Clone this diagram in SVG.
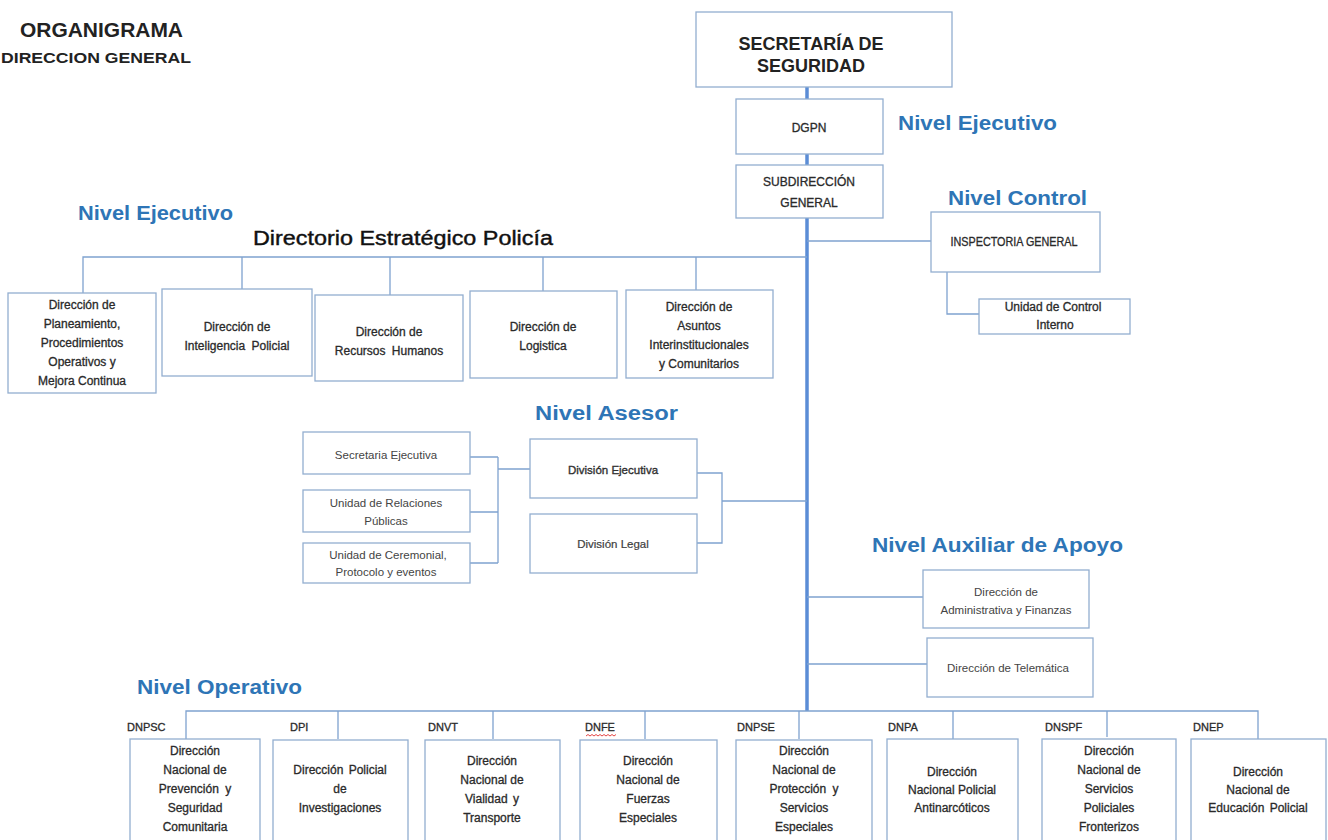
<svg xmlns="http://www.w3.org/2000/svg" width="1328" height="840" viewBox="0 0 1328 840">
<style>
.bg{fill:#ffffff}
.box{fill:#ffffff;stroke:#93aed0;stroke-width:1.3}
.ln{fill:none;stroke:#7fa2cf;stroke-width:1.3}
.main{fill:none;stroke:#5b8dd6;stroke-width:3.5}
.t{font-family:"Liberation Sans",Arial,sans-serif;font-size:12px;fill:#2a2a2a;stroke:#2a2a2a;stroke-width:0.3;text-anchor:middle}
.c{font-family:"Liberation Sans",Arial,sans-serif;font-size:11.5px;fill:#444;text-anchor:middle}
.lv{font-family:"Liberation Sans",Arial,sans-serif;font-size:20px;font-weight:bold;fill:#2e75b6}
.ab{font-family:"Liberation Sans",Arial,sans-serif;font-size:11px;fill:#2a2a2a;stroke:#2a2a2a;stroke-width:0.3}
.ti{font-family:"Liberation Sans",Arial,sans-serif;font-weight:bold;fill:#222}
</style>
<rect class="bg" x="0" y="0" width="1328" height="840"/>

<g id="title">
<text class="ti" x="20" y="37" font-size="20" textLength="163" lengthAdjust="spacingAndGlyphs">ORGANIGRAMA</text>
<text class="ti" x="1" y="63" font-size="14.5" textLength="190" lengthAdjust="spacingAndGlyphs">DIRECCION GENERAL</text>
</g>

<g id="levels">
<text class="lv" x="898" y="130" textLength="159" lengthAdjust="spacingAndGlyphs">Nivel Ejecutivo</text>
<text class="lv" x="948" y="205" textLength="139" lengthAdjust="spacingAndGlyphs">Nivel Control</text>
<text class="lv" x="78" y="220" textLength="155" lengthAdjust="spacingAndGlyphs">Nivel Ejecutivo</text>
<text class="lv" x="535" y="420" textLength="143" lengthAdjust="spacingAndGlyphs">Nivel Asesor</text>
<text class="lv" x="872" y="552" textLength="251" lengthAdjust="spacingAndGlyphs">Nivel Auxiliar de Apoyo</text>
<text class="lv" x="137" y="694" textLength="165" lengthAdjust="spacingAndGlyphs">Nivel Operativo</text>
</g>

<g id="connectors">
<path class="main" d="M807 87 V711"/>
<path class="ln" d="M83 295 V257 H807 M242 289 V257 M390 295 V257 M543 291 V257 M696 290 V257"/>
<path class="ln" d="M807 241 H931"/>
<path class="ln" d="M947 272 V314 H979"/>
<path class="ln" d="M470 457 H498 M470 512 H498 M470 563 H498 M498 457 V563 M498 469 H530"/>
<path class="ln" d="M697 473 H722 V543 H697 M722 501 H807"/>
<path class="ln" d="M807 597 H923 M807 664 H927"/>
<path class="ln" d="M186 739 V711 H1258 V739 M338 711 V739 M493 711 V739 M645 711 V739 M799 711 V739 M953 711 V739 M1107 711 V737"/>
</g>

<g id="secretaria">
<rect class="box" x="696" y="12" width="256" height="75"/>
<text class="ti" x="811" y="50" font-size="18" text-anchor="middle" fill="#222">SECRETARÍA DE</text>
<text class="ti" x="811" y="72" font-size="18" text-anchor="middle" fill="#222">SEGURIDAD</text>
</g>

<g id="dgpn">
<rect class="box" x="736" y="99" width="147" height="55"/>
<text class="t" x="809" y="132" font-size="12.5">DGPN</text>
</g>

<g id="subdireccion">
<rect class="box" x="736" y="165" width="147" height="53"/>
<text class="t" x="809" y="186" font-size="12.5">SUBDIRECCIÓN</text>
<text class="t" x="809" y="207" font-size="12.5">GENERAL</text>
</g>

<g id="inspectoria">
<rect class="box" x="931" y="212" width="169" height="60"/>
<text class="t" x="1014" y="246" font-size="9.5" textLength="127" lengthAdjust="spacingAndGlyphs">INSPECTORIA GENERAL</text>
</g>

<g id="control-interno">
<rect class="box" x="979" y="299" width="151" height="35"/>
<text class="t" x="1053" y="311" font-size="11.5">Unidad de Control</text>
<text class="t" x="1055" y="329" font-size="11.5">Interno</text>
</g>

<g id="directorio">
<text x="253" y="245" font-family="Liberation Sans, Arial, sans-serif" font-size="20" fill="#111" stroke="#111" stroke-width="0.4" textLength="300" lengthAdjust="spacingAndGlyphs">Directorio Estratégico Policía</text>
</g>

<g id="planeamiento">
<rect class="box" x="8" y="293" width="148" height="100"/>
<text class="t" x="82" y="309">Dirección de</text>
<text class="t" x="82" y="328">Planeamiento,</text>
<text class="t" x="82" y="347">Procedimientos</text>
<text class="t" x="82" y="366">Operativos y</text>
<text class="t" x="82" y="385">Mejora Continua</text>
</g>

<g id="inteligencia">
<rect class="box" x="162" y="289" width="150" height="87"/>
<text class="t" x="237" y="331">Dirección de</text>
<text class="t" x="237" y="350" word-spacing="3">Inteligencia Policial</text>
</g>

<g id="rrhh">
<rect class="box" x="315" y="295" width="148" height="86"/>
<text class="t" x="389" y="336">Dirección de</text>
<text class="t" x="389" y="355" word-spacing="3">Recursos Humanos</text>
</g>

<g id="logistica">
<rect class="box" x="470" y="291" width="147" height="87"/>
<text class="t" x="543" y="331">Dirección de</text>
<text class="t" x="543" y="350">Logistica</text>
</g>

<g id="asuntos">
<rect class="box" x="626" y="290" width="147" height="88"/>
<text class="t" x="699" y="311">Dirección de</text>
<text class="t" x="699" y="330">Asuntos</text>
<text class="t" x="699" y="349">Interinstitucionales</text>
<text class="t" x="699" y="368">y Comunitarios</text>
</g>

<g id="secretaria-ejecutiva">
<rect class="box" x="303" y="432" width="167" height="42"/>
<text class="c" x="386" y="459" font-size="12">Secretaria Ejecutiva</text>
</g>

<g id="relaciones-publicas">
<rect class="box" x="303" y="490" width="167" height="42"/>
<text class="c" x="386" y="507">Unidad de Relaciones</text>
<text class="c" x="386" y="525">Públicas</text>
</g>

<g id="ceremonial">
<rect class="box" x="303" y="543" width="167" height="40"/>
<text class="c" x="388" y="559">Unidad de Ceremonial,</text>
<text class="c" x="386" y="576">Protocolo y eventos</text>
</g>

<g id="division-ejecutiva">
<rect class="box" x="530" y="439" width="167" height="59"/>
<text class="c" x="613" y="474" font-size="12" fill="#222" stroke="#222" stroke-width="0.35">División Ejecutiva</text>
</g>

<g id="division-legal">
<rect class="box" x="530" y="514" width="167" height="59"/>
<text class="c" x="613" y="548" font-size="8" fill="#333" stroke="#333" stroke-width="0.2">División Legal</text>
</g>

<g id="administrativa">
<rect class="box" x="923" y="570" width="166" height="58"/>
<text class="c" x="1006" y="596" font-size="11">Dirección de</text>
<text class="c" x="1006" y="614" font-size="11">Administrativa y Finanzas</text>
</g>

<g id="telematica">
<rect class="box" x="927" y="638" width="166" height="59"/>
<text class="c" x="1008" y="672">Dirección de Telemática</text>
</g>

<g id="abbr">
<text class="ab" x="127" y="731">DNPSC</text>
<text class="ab" x="290" y="731">DPI</text>
<text class="ab" x="428" y="731">DNVT</text>
<text class="ab" x="585" y="731">DNFE</text>
<path d="M586 736 l2 -1.5 l2 1.5 l2 -1.5 l2 1.5 l2 -1.5 l2 1.5 l2 -1.5 l2 1.5 l2 -1.5 l2 1.5 l2 -1.5 l2 1.5 l2 -1.5 l2 1.5 l2 -1.5" fill="none" stroke="#e03030" stroke-width="0.9"/>
<text class="ab" x="737" y="731">DNPSE</text>
<text class="ab" x="888" y="731">DNPA</text>
<text class="ab" x="1045" y="731">DNSPF</text>
<text class="ab" x="1193" y="731">DNEP</text>
</g>

<g id="dnpsc">
<rect class="box" x="130" y="739" width="130" height="110"/>
<text class="t" x="195" y="755">Dirección</text>
<text class="t" x="195" y="774">Nacional de</text>
<text class="t" x="195" y="793" word-spacing="3">Prevención y</text>
<text class="t" x="195" y="812">Seguridad</text>
<text class="t" x="195" y="831">Comunitaria</text>
</g>

<g id="dpi">
<rect class="box" x="273" y="740" width="135" height="110"/>
<text class="t" x="340" y="774" word-spacing="2">Dirección Policial</text>
<text class="t" x="340" y="793">de</text>
<text class="t" x="340" y="812">Investigaciones</text>
</g>

<g id="dnvt">
<rect class="box" x="425" y="740" width="135" height="110"/>
<text class="t" x="492" y="765">Dirección</text>
<text class="t" x="492" y="784">Nacional de</text>
<text class="t" x="492" y="803" word-spacing="2">Vialidad y</text>
<text class="t" x="492" y="822">Transporte</text>
</g>

<g id="dnfe">
<rect class="box" x="580" y="740" width="137" height="110"/>
<text class="t" x="648" y="765">Dirección</text>
<text class="t" x="648" y="784">Nacional de</text>
<text class="t" x="648" y="803">Fuerzas</text>
<text class="t" x="648" y="822">Especiales</text>
</g>

<g id="dnpse">
<rect class="box" x="736" y="740" width="136" height="110"/>
<text class="t" x="804" y="755">Dirección</text>
<text class="t" x="804" y="774">Nacional de</text>
<text class="t" x="804" y="793" word-spacing="3">Protección y</text>
<text class="t" x="804" y="812">Servicios</text>
<text class="t" x="804" y="831">Especiales</text>
</g>

<g id="dnpa">
<rect class="box" x="887" y="739" width="131" height="110"/>
<text class="t" x="952" y="776">Dirección</text>
<text class="t" x="952" y="794">Nacional Policial</text>
<text class="t" x="952" y="812">Antinarcóticos</text>
</g>

<g id="dnspf">
<rect class="box" x="1042" y="739" width="134" height="110"/>
<text class="t" x="1109" y="755">Dirección</text>
<text class="t" x="1109" y="774">Nacional de</text>
<text class="t" x="1109" y="793">Servicios</text>
<text class="t" x="1109" y="812">Policiales</text>
<text class="t" x="1109" y="831">Fronterizos</text>
</g>

<g id="dnep">
<rect class="box" x="1191" y="739" width="135" height="110"/>
<text class="t" x="1258" y="776">Dirección</text>
<text class="t" x="1258" y="794">Nacional de</text>
<text class="t" x="1258" y="812" word-spacing="2">Educación Policial</text>
</g>
</svg>
